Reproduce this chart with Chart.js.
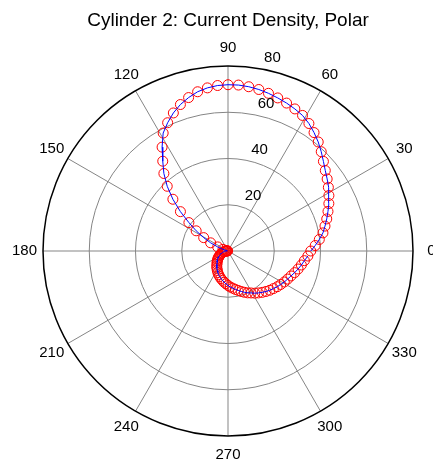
<!DOCTYPE html>
<html>
<head>
<meta charset="utf-8">
<script src="https://cdn.jsdelivr.net/npm/chart.js@4.4.0/dist/chart.umd.min.js"></script>
<style>
  html, body { margin: 0; padding: 0; background: #fff; }
  canvas { display: block; }
</style>
</head>
<body>
<canvas id="grafico" width="433" height="468"></canvas>
<script>
// angulos (grados) y densidad de corriente
const angulos = [
  0, 3.6, 7.2, 10.8, 14.4, 18, 21.6, 25.2, 28.8, 32.4,
  36, 39.6, 43.2, 46.8, 50.4, 54, 57.6, 61.2, 64.8, 68.4,
  72, 75.6, 79.2, 82.8, 86.4, 90, 93.6, 97.2, 100.8, 104.4,
  108, 111.6, 115.2, 118.8, 122.4, 126, 129.6, 133.2, 136.8, 140.4,
  144, 147.6, 151.2, 154.8, 158.4, 162, 165.6, 169.2, 172.8, 176.4,
  180, 183.6, 187.2, 190.8, 194.4, 198, 201.6, 205.2, 208.8, 212.4,
  216, 219.6, 223.2, 226.8, 230.4, 234, 237.6, 241.2, 244.8, 248.4,
  252, 255.6, 259.2, 262.8, 266.4, 270, 273.6, 277.2, 280.8, 284.4,
  288, 291.6, 295.2, 298.8, 302.4, 306, 309.6, 313.2, 316.8, 320.4,
  324, 327.6, 331.2, 334.8, 338.4, 342, 345.6, 349.2, 352.8, 356.4
];
const densidad = [
  35.8, 37.8, 39.8, 41.8, 43.3, 44.9, 46.5, 48.2, 49.8, 51.4,
  53.0, 54.6, 56.6, 58.9, 61.2, 63.3, 65.3, 66.9, 67.9, 68.8,
  69.6, 70.4, 71.1, 71.6, 71.9, 71.9, 71.7, 71.1, 70.1, 68.5,
  66.6, 64.2, 61.3, 58.2, 53.2, 48.0, 43.5, 38.4, 32.7, 26.7,
  20.9, 16.3, 12.0, 8.3, 4.8, 2.3, 0.9, 0.3, 0.2, 0.4,
  0.7, 1.1, 1.5, 1.9, 2.4, 2.8, 3.2, 3.7, 4.2, 4.8,
  5.3, 5.8, 6.4, 6.9, 7.5, 8.3, 8.9, 9.6, 10.3, 11.0,
  11.6, 12.3, 12.9, 13.6, 14.2, 14.9, 15.6, 16.2, 16.9, 17.6,
  18.4, 19.2, 20.0, 20.7, 21.6, 22.4, 23.2, 24.0, 24.8, 25.5,
  26.3, 27.0, 27.8, 28.5, 29.3, 30.3, 31.3, 32.3, 33.3, 34.6
];
const anillos = [20, 40, 60, 80];
const radioMax = 80;
const etiquetasAngulo = [0, 30, 60, 90, 120, 150, 180, 210, 240, 270, 300, 330];
const titulo = 'Cylinder 2: Current Density, Polar';

const fuente = '"Liberation Sans", Arial, sans-serif';

const puntos = angulos.map((a, i) => {
  const t = a * Math.PI / 180;
  return { x: densidad[i] * Math.cos(t), y: densidad[i] * Math.sin(t) };
});

const rejillaPolar = {
  id: 'rejillaPolar',
  beforeDatasetsDraw(chart) {
    const { ctx, scales: { x, y } } = chart;
    const cx = x.getPixelForValue(0);
    const cy = y.getPixelForValue(0);
    const rpx = r => x.getPixelForValue(r) - cx;

    ctx.save();
    ctx.strokeStyle = '#858585';
    ctx.lineWidth = 1;
    // radios cada 30 grados
    for (let a = 0; a < 180; a += 30) {
      const t = a * Math.PI / 180;
      ctx.beginPath();
      ctx.moveTo(x.getPixelForValue(-radioMax * Math.cos(t)), y.getPixelForValue(-radioMax * Math.sin(t)));
      ctx.lineTo(x.getPixelForValue(radioMax * Math.cos(t)), y.getPixelForValue(radioMax * Math.sin(t)));
      ctx.stroke();
    }
    // anillos interiores
    anillos.slice(0, -1).forEach(r => {
      ctx.beginPath();
      ctx.arc(cx, cy, rpx(r), 0, Math.PI * 2);
      ctx.stroke();
    });
    // borde exterior
    ctx.strokeStyle = '#000';
    ctx.lineWidth = 1.5;
    ctx.beginPath();
    ctx.arc(cx, cy, rpx(radioMax), 0, Math.PI * 2);
    ctx.stroke();
    ctx.restore();
  },
  afterDraw(chart) {
    const { ctx, scales: { x, y } } = chart;
    const cx = x.getPixelForValue(0);
    const cy = y.getPixelForValue(0);
    ctx.save();
    ctx.fillStyle = '#000';

    // etiquetas de angulo
    ctx.font = '15px ' + fuente;
    ctx.textAlign = 'center';
    ctx.textBaseline = 'middle';
    etiquetasAngulo.forEach(a => {
      const t = a * Math.PI / 180;
      const px = x.getPixelForValue(1.1 * radioMax * Math.cos(t));
      const py = y.getPixelForValue(1.1 * radioMax * Math.sin(t));
      ctx.fillText(String(a), px, py);
    });

    // etiquetas de anillos
    const c82 = Math.cos(82 * Math.PI / 180);
    const s82 = Math.sin(82 * Math.PI / 180);
    ctx.textAlign = 'left';
    ctx.textBaseline = 'bottom';
    anillos.forEach(r => {
      const px = x.getPixelForValue((r + 1) * c82) + 10;
      const py = y.getPixelForValue((r + 1) * s82);
      ctx.fillText(String(r), px, py);
    });

    // titulo
    ctx.font = '19px ' + fuente;
    ctx.textAlign = 'center';
    ctx.textBaseline = 'alphabetic';
    ctx.fillText(titulo, cx, 26);
    ctx.restore();
  }
};

new Chart(document.getElementById('grafico'), {
  type: 'scatter',
  data: {
    datasets: [
      {
        label: 'linea',
        data: puntos,
        showLine: true,
        borderColor: '#0000ff',
        borderWidth: 1,
        pointRadius: 0,
        tension: 0,
        order: 0
      },
      {
        label: 'marcas',
        data: puntos,
        showLine: false,
        pointStyle: 'circle',
        pointRadius: 5,
        pointBorderWidth: 1,
        pointBorderColor: '#ff0000',
        pointBackgroundColor: 'rgba(0,0,0,0)',
        order: 1
      }
    ]
  },
  options: {
    responsive: false,
    animation: false,
    layout: { padding: { left: 43, right: 20, top: 66, bottom: 32 } },
    plugins: {
      legend: { display: false },
      tooltip: { enabled: false },
      title: { display: false }
    },
    scales: {
      x: { type: 'linear', min: -radioMax, max: radioMax, display: false },
      y: { type: 'linear', min: -radioMax, max: radioMax, display: false }
    }
  },
  plugins: [rejillaPolar]
});
</script>
</body>
</html>
